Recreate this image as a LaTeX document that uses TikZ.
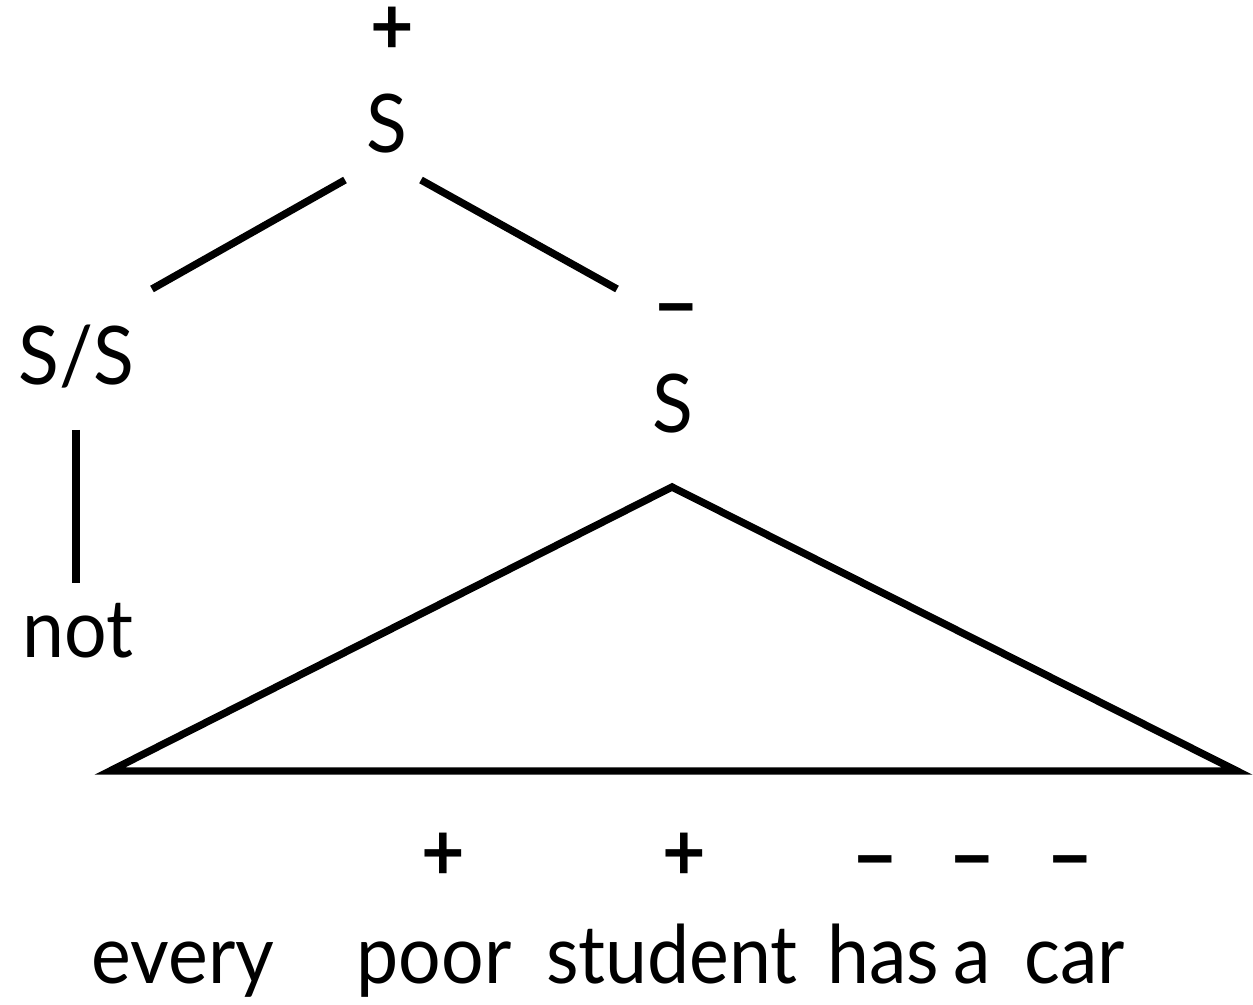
\documentclass[tikz,border=0pt]{standalone}
\usepackage{fontspec}
\setmainfont{Lato}[FakeStretch=0.93]
\usetikzlibrary{calc}
\tikzset{
	cat/.style={font=\fontsize{46}{55}\selectfont, inner sep=0pt, anchor=base},
	word/.style={font=\fontsize{46}{55}\selectfont, inner sep=0pt, anchor=base},
	polar/.style={font=\fontsize{46}{55}\selectfont\bfseries, inner sep=0pt, anchor=center},
	minus/.style={polar, yshift=-0.29cm},
	branch/.style={line width=4.2pt},
}
\begin{document}
\begin{tikzpicture}
	\useasboundingbox (0,0) rectangle (25.06,-20.1);
	% upper tree
	\node[cat] (s0) at (7.74,-3.06) {S};
	\node[polar] (p0) at (7.84,-0.62) {+};
	\node[cat] (ss) at (1.52,-7.7) {S/S};
	\node[cat] (s1) at (13.46,-8.66) {S};
	\node[minus] (p1) at (13.52,-6.1) {−};
	\node[word] (not) at (1.56,-13.14) {not};
	\draw[branch]([shift={(-0.84,-0.54)}]s0.base)--([shift={(1.52,1.92)}]ss.base);
	\draw[branch]([shift={(0.68,-0.54)}]s0.base)--([shift={(-1.12,2.88)}]s1.base);
	\draw[branch]([shift={(0,-0.9)}]ss.base)--([shift={(-0.04,1.48)}]not.base);
	% triangle
	\coordinate (tl) at (2.2,-15.42);
	\coordinate (tr) at (24.74,-15.42);
	\draw[branch,line join=miter]([shift={(-0.02,-1.08)}]s1.base)--(tr)--(tl)--cycle;
	% sentence
	\node[word] (every) at (3.66,-19.66) {every};
	\node[word] (poor) at (8.68,-19.66) {poor};
	\node[word] (student) at (13.44,-19.66) {student};
	\node[word] (has) at (17.66,-19.66) {has};
	\node[word] (a) at (19.44,-19.66) {a};
	\node[word] (car) at (21.5,-19.66) {car};
	\node[polar] (m1) at (8.86,-17.14) {+};
	\node[polar] (m2) at (13.68,-17.14) {+};
	\node[minus] (m3) at (17.5,-17.14) {−};
	\node[minus] (m4) at (19.44,-17.14) {−};
	\node[minus] (m5) at (21.4,-17.14) {−};
\end{tikzpicture}
\end{document}
